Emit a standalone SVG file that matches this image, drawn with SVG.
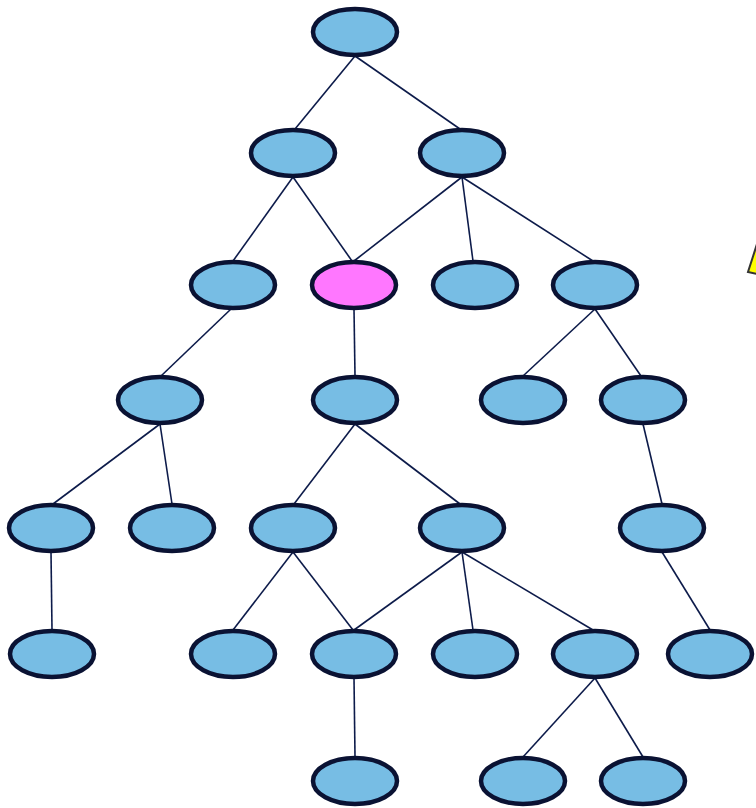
<svg xmlns="http://www.w3.org/2000/svg" width="756" height="808" viewBox="0 0 756 808">
<style>
.n{fill:#77bde4;stroke:#0a1233;stroke-width:4.5}
.p{fill:#ff77ff;stroke:#0a1233;stroke-width:4.5}
.e line{stroke:#0d1b4a;stroke-width:1.6}
</style>
<rect width="756" height="808" fill="#fff"/>
<g id="connectors" class="e">
<line x1="355" y1="56" x2="295" y2="129"/>
<line x1="355" y1="56" x2="460" y2="129"/>
<line x1="293" y1="177" x2="233" y2="261"/>
<line x1="293" y1="177" x2="352" y2="261"/>
<line x1="462" y1="177" x2="354" y2="261"/>
<line x1="462" y1="177" x2="473" y2="261"/>
<line x1="462" y1="177" x2="593" y2="261"/>
<line x1="231" y1="309" x2="161" y2="376"/>
<line x1="354" y1="309" x2="355" y2="376"/>
<line x1="595" y1="309" x2="523" y2="376"/>
<line x1="595" y1="309" x2="641" y2="376"/>
<line x1="160" y1="424" x2="53" y2="504"/>
<line x1="160" y1="424" x2="172" y2="504"/>
<line x1="355" y1="424" x2="294" y2="504"/>
<line x1="355" y1="424" x2="460" y2="504"/>
<line x1="643" y1="424" x2="662" y2="504"/>
<line x1="51" y1="552" x2="52" y2="630"/>
<line x1="293" y1="552" x2="233" y2="630"/>
<line x1="293" y1="552" x2="353" y2="630"/>
<line x1="462" y1="552" x2="354" y2="630"/>
<line x1="462" y1="552" x2="473" y2="630"/>
<line x1="462" y1="552" x2="593" y2="630"/>
<line x1="662" y1="552" x2="710" y2="630"/>
<line x1="354" y1="678" x2="355" y2="757"/>
<line x1="595" y1="678" x2="523" y2="757"/>
<line x1="595" y1="678" x2="643" y2="757"/>
</g>
<g id="n1"><ellipse class="n" cx="355" cy="32" rx="42" ry="23"/></g>
<g id="n2"><ellipse class="n" cx="293" cy="153" rx="42" ry="23"/></g>
<g id="n3"><ellipse class="n" cx="462" cy="153" rx="42" ry="23"/></g>
<g id="n4"><ellipse class="n" cx="233" cy="285" rx="42" ry="23"/></g>
<g id="n5"><ellipse class="p" cx="354" cy="285" rx="42" ry="23"/></g>
<g id="n6"><ellipse class="n" cx="475" cy="285" rx="42" ry="23"/></g>
<g id="n7"><ellipse class="n" cx="595" cy="285" rx="42" ry="23"/></g>
<g id="n8"><ellipse class="n" cx="160" cy="400" rx="42" ry="23"/></g>
<g id="n9"><ellipse class="n" cx="355" cy="400" rx="42" ry="23"/></g>
<g id="n10"><ellipse class="n" cx="523" cy="400" rx="42" ry="23"/></g>
<g id="n11"><ellipse class="n" cx="643" cy="400" rx="42" ry="23"/></g>
<g id="n12"><ellipse class="n" cx="51" cy="528" rx="42" ry="23"/></g>
<g id="n13"><ellipse class="n" cx="172" cy="528" rx="42" ry="23"/></g>
<g id="n14"><ellipse class="n" cx="293" cy="528" rx="42" ry="23"/></g>
<g id="n15"><ellipse class="n" cx="462" cy="528" rx="42" ry="23"/></g>
<g id="n16"><ellipse class="n" cx="662" cy="528" rx="42" ry="23"/></g>
<g id="n17"><ellipse class="n" cx="52" cy="654" rx="42" ry="23"/></g>
<g id="n18"><ellipse class="n" cx="233" cy="654" rx="42" ry="23"/></g>
<g id="n19"><ellipse class="n" cx="354" cy="654" rx="42" ry="23"/></g>
<g id="n20"><ellipse class="n" cx="475" cy="654" rx="42" ry="23"/></g>
<g id="n21"><ellipse class="n" cx="595" cy="654" rx="42" ry="23"/></g>
<g id="n22"><ellipse class="n" cx="710" cy="654" rx="42" ry="23"/></g>
<g id="n23"><ellipse class="n" cx="355" cy="781" rx="42" ry="23"/></g>
<g id="n24"><ellipse class="n" cx="523" cy="781" rx="42" ry="23"/></g>
<g id="n25"><ellipse class="n" cx="643" cy="781" rx="42" ry="23"/></g>
<g id="callout"><polygon points="757,244 748,272 757,274" fill="#ffff00" stroke="#333" stroke-width="2"/></g>
</svg>
